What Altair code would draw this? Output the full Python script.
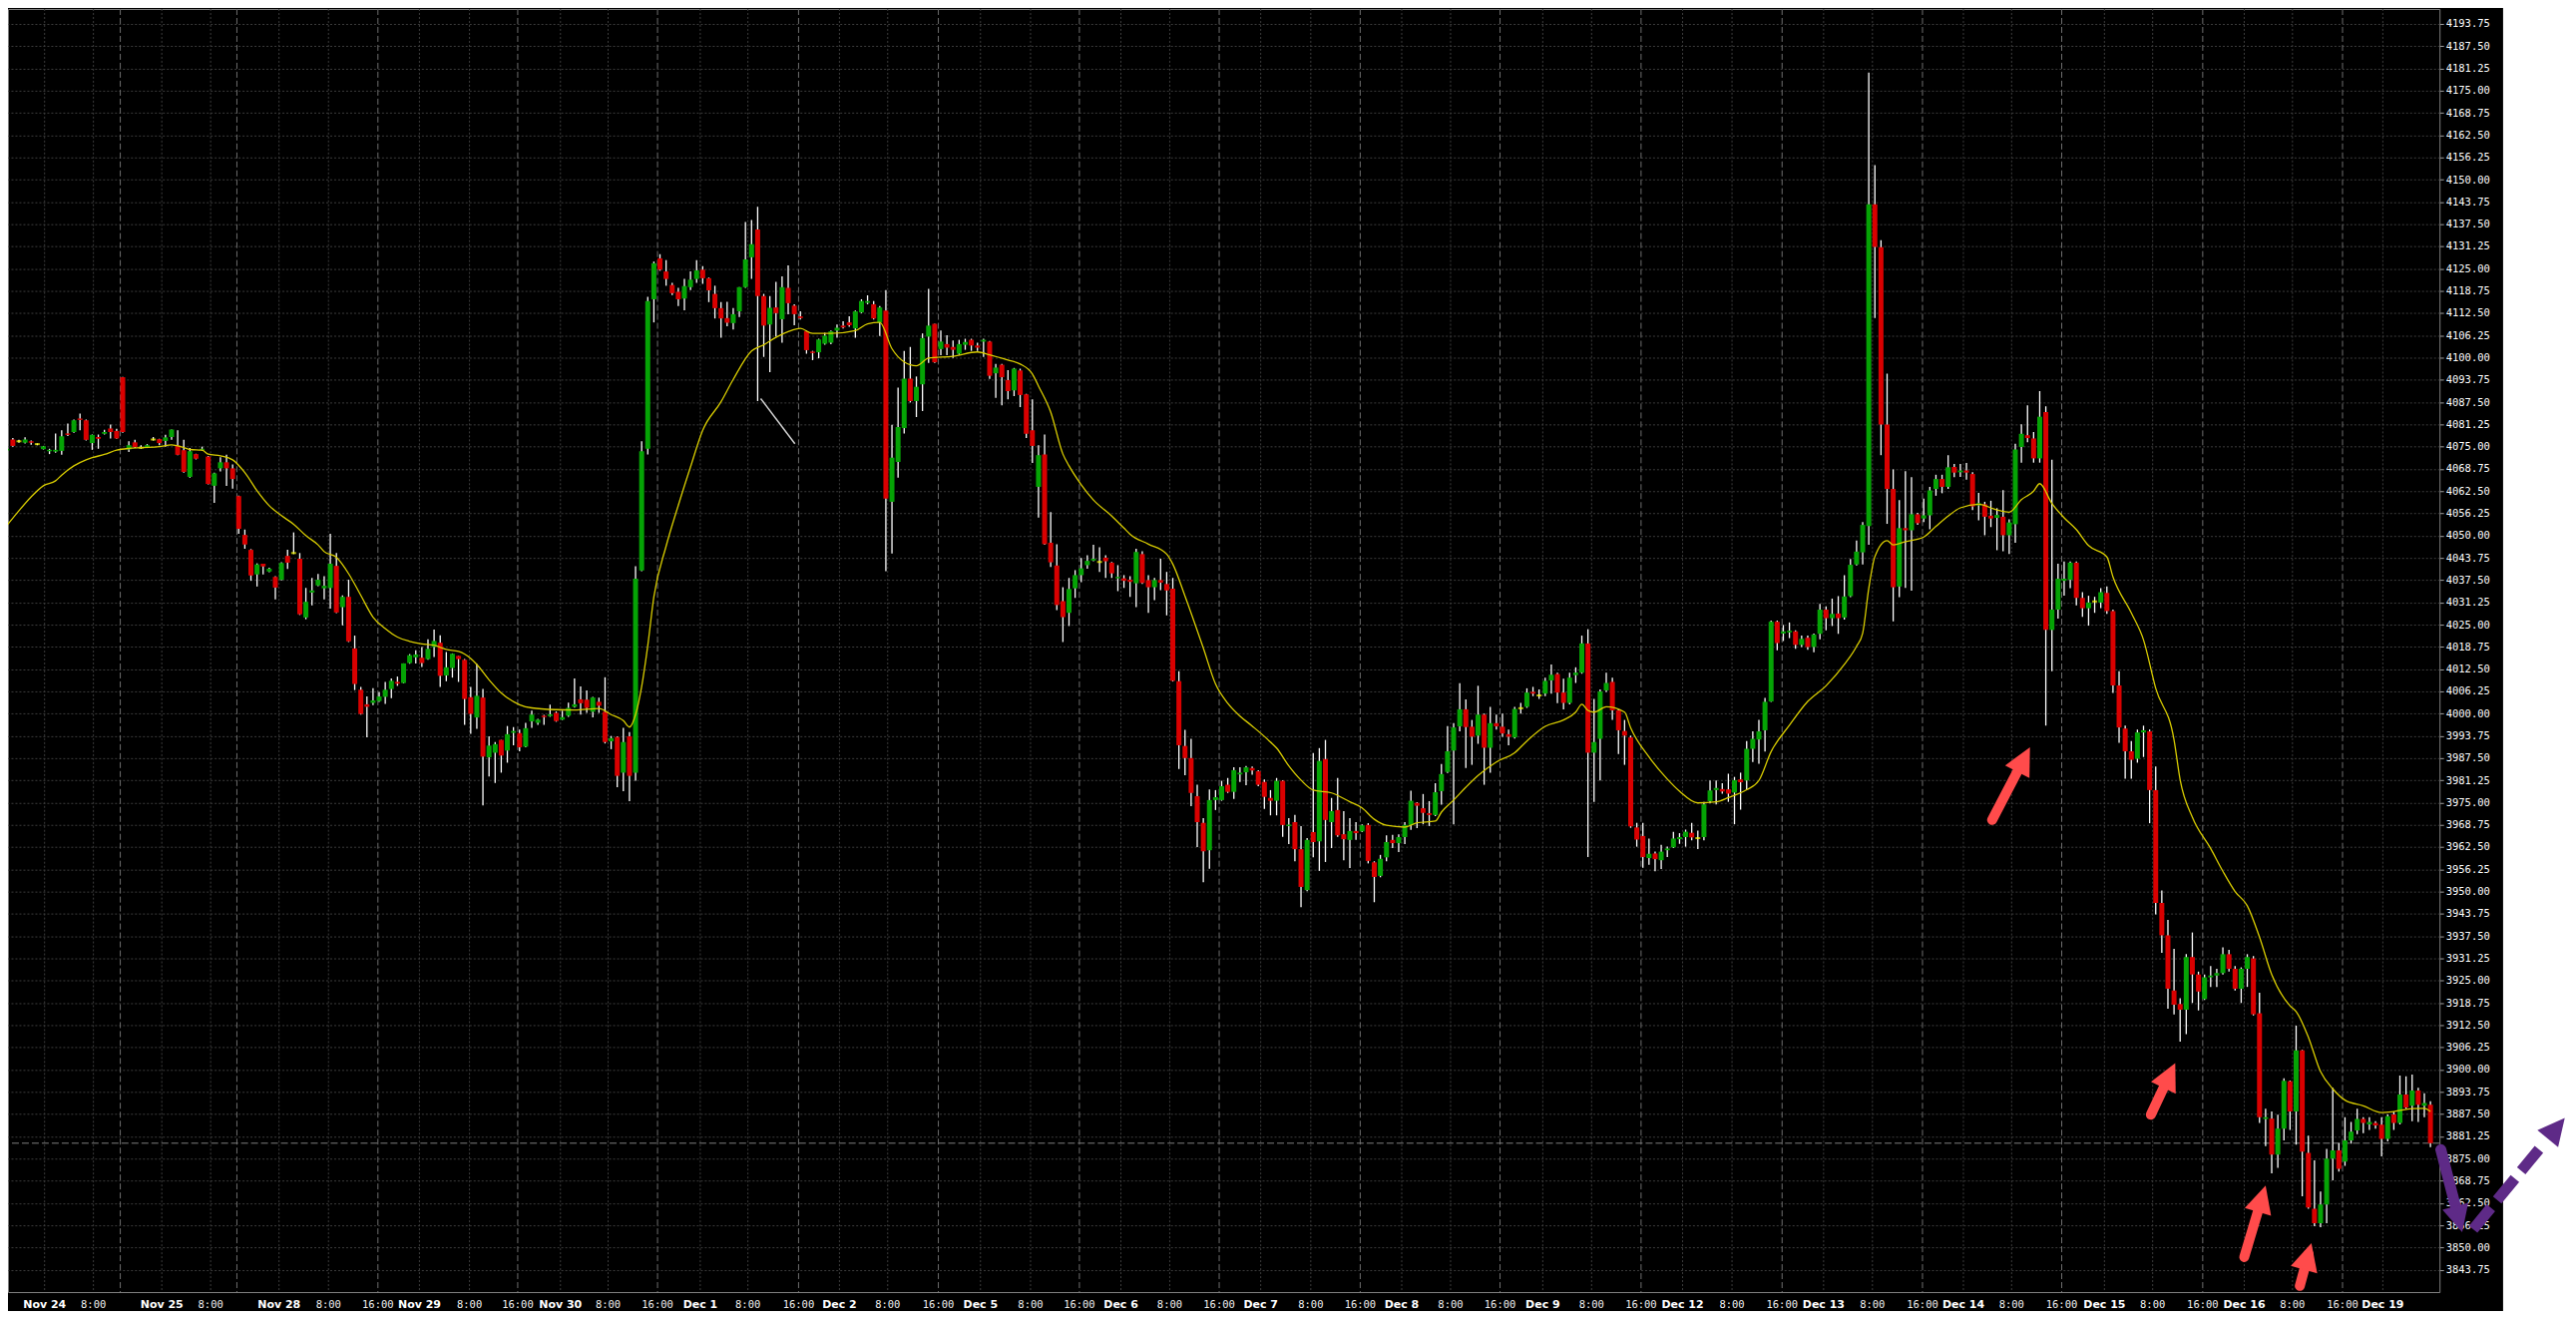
import altair as alt
import pandas as pd

# ---------------- hourly OHLC (bar index 0..397) ----------------
opens = [
 4073.9, 4077.0, 4076.5, 4076.1, 4076.5, 4075.7, 4074.3, 4073.7, 4073.6, 4073.8,
 4078.7, 4079.1, 4082.9, 4082.4, 4076.0, 4077.7, 4078.6, 4080.1, 4079.4, 4094.5,
 4074.2, 4076.2, 4074.7, 4074.7, 4077.0, 4077.1, 4076.6, 4077.7, 4075.3, 4074.0,
 4066.5, 4072.9, 4074.1, 4072.2, 4064.0, 4068.9, 4070.6, 4068.9, 4061.1, 4050.2,
 4046.0, 4039.1, 4042.1, 4039.9, 4038.4, 4037.6, 4044.3, 4045.1, 4043.5, 4027.0,
 4034.0, 4036.0, 4035.2, 4035.3, 4041.5, 4029.9, 4032.8, 4018.3, 4006.7, 4002.6,
 4003.0, 4003.5, 4004.7, 4006.9, 4008.9, 4008.6, 4014.2, 4015.8, 4015.7, 4015.3,
 4018.7, 4019.9, 4010.7, 4012.8, 4016.2, 4015.1, 4004.6, 3998.9, 4004.5, 3987.7,
 3989.0, 3992.6, 3989.6, 3994.6, 3994.5, 3990.7, 3997.8, 3997.4, 3999.4, 3999.3,
 4000.2, 3998.3, 3999.4, 4001.9, 4004.0, 4003.9, 4000.5, 4003.3, 4000.5, 3992.2,
 3993.4, 3983.4, 3993.6, 3983.4, 4040.2, 4074.4, 4116.4, 4127.9, 4124.2, 4120.4,
 4118.5, 4116.6, 4119.8, 4122.1, 4124.7, 4122.3, 4117.9, 4113.9, 4111.1, 4109.7,
 4113.0, 4119.8, 4128.2, 4136.0, 4117.3, 4109.3, 4114.1, 4110.8, 4119.6, 4114.6,
 4111.6, 4107.4, 4101.7, 4101.5, 4103.9, 4104.2, 4107.6, 4109.0, 4109.9, 4108.2,
 4112.7, 4115.4, 4115.0, 4109.9, 4113.2, 4059.5, 4070.7, 4080.2, 4094.1, 4087.8,
 4092.5, 4105.9, 4109.5, 4102.4, 4103.8, 4103.0, 4101.1, 4103.6, 4105.0, 4103.4,
 4104.5, 4104.5, 4095.6, 4098.0, 4093.7, 4090.8, 4096.4, 4089.7, 4079.6, 4063.7,
 4072.8, 4048.0, 4041.6, 4031.6, 4028.3, 4035.2, 4038.9, 4041.7, 4043.0, 4042.6,
 4043.8, 4042.4, 4038.0, 4038.0, 4037.6, 4036.6, 4044.8, 4037.5, 4035.5, 4037.5,
 4036.4, 4035.1, 4009.1, 3990.9, 3987.5, 3976.8, 3969.3, 3961.6, 3975.7, 3975.7,
 3980.0, 3978.0, 3982.9, 3983.5, 3984.7, 3983.8, 3980.8, 3976.3, 3975.5, 3981.1,
 3968.4, 3969.5, 3961.9, 3950.4, 3966.7, 3964.1, 3987.2, 3969.5, 3972.9, 3966.1,
 3964.5, 3967.0, 3966.9, 3968.7, 3958.2, 3954.4, 3959.6, 3964.5, 3963.6, 3965.3,
 3968.7, 3974.9, 3973.4, 3972.0, 3971.5, 3978.2, 3983.6, 3989.6, 3996.4, 4001.2,
 3996.3, 3993.8, 3999.7, 3990.4, 3997.3, 3996.3, 3994.2, 3993.3, 4001.5, 4001.9,
 4006.1, 4005.1, 4005.6, 4009.3, 4011.1, 4005.9, 4003.0, 4010.8, 4011.5, 4019.7,
 3989.0, 3992.9, 4006.5, 4008.9, 4000.9, 3995.1, 3993.3, 3968.0, 3965.6, 3959.4,
 3960.7, 3958.8, 3961.6, 3962.4, 3964.7, 3965.3, 3966.5, 3965.0, 3965.3, 3975.4,
 3978.5, 3978.8, 3978.7, 3977.8, 3981.5, 3981.2, 3990.1, 3992.7, 3995.3, 4003.4,
 4025.8, 4022.5, 4022.8, 4023.1, 4019.3, 4021.3, 4018.7, 4022.4, 4029.2, 4026.8,
 4028.1, 4027.0, 4033.0, 4041.9, 4045.3, 4052.7, 4143.1, 4131.0, 4081.2, 4063.1,
 4035.7, 4052.1, 4051.5, 4056.0, 4054.8, 4055.7, 4063.1, 4065.9, 4063.7, 4069.3,
 4067.8, 4068.3, 4067.3, 4058.5, 4058.8, 4055.6, 4055.0, 4055.3, 4050.1, 4053.2,
 4074.9, 4078.2, 4077.3, 4071.7, 4084.7, 4023.5, 4029.2, 4037.3, 4037.6, 4042.4,
 4032.5, 4029.6, 4031.5, 4031.2, 4033.9, 4028.8, 4007.9, 3995.8, 3989.4, 3987.3,
 3994.7, 3995.0, 3978.5, 3946.8, 3937.7, 3922.2, 3918.4, 3916.8, 3931.6, 3926.7,
 3919.8, 3925.9, 3926.4, 3927.1, 3932.4, 3928.3, 3922.7, 3928.3, 3931.2, 3915.8,
 3886.1, 3886.2, 3876.1, 3883.4, 3896.7, 3888.2, 3905.4, 3876.6, 3860.9, 3856.8,
 3862.1, 3875.0, 3877.3, 3874.1, 3880.1, 3882.9, 3886.1, 3884.6, 3885.0, 3884.5,
 3880.5, 3887.4, 3885.0, 3893.0, 3889.8, 3894.1, 3889.8, 3890.1]

highs = [
 4074.6, 4077.4, 4076.9, 4077.6, 4076.7, 4075.9, 4075.2, 4074.4, 4078.7, 4079.6,
 4081.5, 4082.6, 4084.3, 4082.6, 4078.4, 4078.4, 4079.7, 4081.2, 4080.0, 4094.6,
 4076.5, 4076.9, 4075.4, 4075.7, 4077.7, 4077.2, 4078.3, 4079.8, 4079.6, 4076.9,
 4074.6, 4073.0, 4075.0, 4072.4, 4067.7, 4072.0, 4072.7, 4070.0, 4061.2, 4051.7,
 4046.2, 4042.2, 4042.1, 4041.0, 4038.6, 4042.5, 4046.0, 4050.9, 4045.1, 4035.3,
 4038.1, 4039.2, 4038.6, 4050.5, 4045.1, 4033.2, 4037.6, 4021.9, 4007.5, 4004.8,
 4007.1, 4006.0, 4008.9, 4009.9, 4010.4, 4014.1, 4016.7, 4017.8, 4018.7, 4020.9,
 4023.6, 4022.0, 4017.3, 4016.9, 4016.2, 4015.3, 4007.5, 4013.9, 4006.9, 3993.6,
 3992.0, 3992.6, 3996.5, 3996.2, 3995.5, 3997.4, 4000.8, 3998.5, 3999.6, 4002.5,
 4000.6, 4000.8, 4003.1, 4009.9, 4007.6, 4006.5, 4004.7, 4004.5, 4010.2, 3993.7,
 3993.6, 3996.0, 3994.8, 4041.4, 4076.5, 4117.1, 4127.0, 4129.1, 4127.4, 4121.0,
 4119.6, 4122.1, 4124.2, 4127.4, 4125.7, 4122.5, 4120.2, 4115.6, 4115.7, 4113.9,
 4119.8, 4138.1, 4138.7, 4142.4, 4117.9, 4117.3, 4121.3, 4122.8, 4125.9, 4115.0,
 4113.0, 4107.6, 4101.9, 4105.3, 4107.0, 4107.6, 4109.3, 4110.2, 4111.6, 4113.2,
 4116.4, 4117.5, 4115.9, 4114.5, 4119.0, 4081.1, 4091.6, 4101.9, 4103.0, 4094.7,
 4106.8, 4119.3, 4109.5, 4107.6, 4106.3, 4104.8, 4105.0, 4105.3, 4105.3, 4104.2,
 4105.3, 4104.7, 4098.2, 4098.2, 4096.5, 4097.1, 4096.9, 4089.8, 4088.3, 4075.4,
 4078.4, 4056.6, 4047.6, 4035.5, 4038.1, 4040.3, 4043.7, 4044.5, 4047.4, 4046.7,
 4044.5, 4042.6, 4041.7, 4038.9, 4038.6, 4046.3, 4045.6, 4038.9, 4038.1, 4043.5,
 4039.8, 4038.1, 4011.9, 3995.4, 3992.9, 3980.0, 3970.6, 3978.7, 3978.5, 3981.1,
 3981.9, 3984.9, 3984.9, 3985.3, 3985.1, 3984.1, 3981.5, 3978.5, 3981.9, 3981.3,
 3970.6, 3971.5, 3968.4, 3965.0, 3988.9, 3990.3, 3992.6, 3976.3, 3981.9, 3972.6,
 3970.6, 3969.5, 3968.9, 3969.2, 3958.5, 3960.3, 3965.8, 3965.9, 3966.1, 3969.5,
 3978.3, 3975.1, 3977.4, 3975.4, 3980.4, 3985.8, 3996.5, 3997.3, 4008.5, 4004.0,
 3998.2, 4007.8, 4000.0, 4001.9, 3999.7, 4000.0, 3995.5, 4001.9, 4003.0, 4007.1,
 4007.5, 4006.8, 4010.1, 4013.8, 4011.5, 4009.8, 4011.5, 4013.0, 4021.9, 4023.7,
 4004.1, 4006.8, 4011.5, 4010.1, 4001.2, 3998.2, 3993.8, 3969.3, 3969.3, 3964.9,
 3961.2, 3963.1, 3962.6, 3966.8, 3966.4, 3967.4, 3969.3, 3967.1, 3975.2, 3981.2,
 3981.2, 3980.4, 3983.1, 3982.2, 3983.4, 3992.3, 3995.0, 3998.2, 4004.4, 4026.1,
 4026.1, 4024.9, 4025.6, 4023.4, 4021.9, 4021.9, 4022.5, 4030.8, 4030.1, 4032.3,
 4033.0, 4038.9, 4043.4, 4048.6, 4053.8, 4180.1, 4154.1, 4133.0, 4095.5, 4068.6,
 4060.0, 4068.1, 4066.4, 4056.4, 4060.4, 4063.7, 4067.1, 4067.1, 4072.6, 4070.1,
 4070.1, 4070.4, 4067.8, 4062.0, 4059.5, 4059.8, 4057.7, 4062.8, 4054.6, 4075.8,
 4081.3, 4086.6, 4079.1, 4090.6, 4086.3, 4071.3, 4042.1, 4042.7, 4042.7, 4042.7,
 4034.1, 4033.1, 4032.8, 4035.2, 4035.7, 4029.2, 4011.9, 3996.6, 3992.3, 3995.5,
 3996.6, 3995.5, 3985.1, 3950.3, 3942.0, 3933.9, 3920.0, 3932.4, 3938.5, 3927.5,
 3926.7, 3929.1, 3928.3, 3934.3, 3933.6, 3929.1, 3928.7, 3932.4, 3931.9, 3921.6,
 3889.0, 3888.2, 3887.3, 3897.5, 3896.9, 3912.3, 3905.5, 3881.4, 3874.5, 3865.7,
 3877.7, 3894.9, 3879.3, 3886.6, 3885.3, 3889.0, 3886.6, 3886.6, 3885.5, 3886.6,
 3887.4, 3888.2, 3898.3, 3898.1, 3898.6, 3894.9, 3893.3, 3891.1]

lows = [
 4073.7, 4075.0, 4076.1, 4075.9, 4075.5, 4075.4, 4074.2, 4072.9, 4073.3, 4072.7,
 4078.0, 4078.9, 4079.6, 4076.7, 4074.1, 4074.4, 4078.4, 4077.3, 4077.2, 4078.9,
 4073.5, 4074.6, 4074.4, 4074.6, 4076.7, 4075.4, 4075.0, 4076.9, 4072.6, 4067.7,
 4066.3, 4071.4, 4073.9, 4064.4, 4059.2, 4068.0, 4064.0, 4063.2, 4050.5, 4046.3,
 4037.3, 4035.7, 4039.1, 4039.7, 4032.1, 4037.4, 4040.6, 4044.8, 4027.7, 4026.5,
 4030.4, 4035.8, 4032.1, 4029.5, 4028.2, 4024.8, 4020.1, 4006.6, 3999.7, 3993.3,
 4002.4, 4003.3, 4002.7, 4004.3, 4007.8, 4008.5, 4014.0, 4014.1, 4013.1, 4015.1,
 4015.9, 4007.5, 4009.1, 4010.1, 4008.9, 3996.8, 3994.3, 3995.7, 3974.2, 3982.3,
 3980.5, 3983.4, 3986.2, 3991.1, 3989.4, 3990.5, 3996.0, 3996.8, 3996.8, 3999.1,
 3997.7, 3998.2, 3999.1, 4001.7, 3999.7, 4000.2, 3998.9, 4000.2, 3991.6, 3990.0,
 3979.3, 3978.2, 3975.4, 3981.1, 4040.0, 4072.8, 4109.9, 4124.4, 4120.2, 4117.6,
 4114.5, 4113.3, 4119.0, 4121.0, 4120.7, 4115.6, 4111.0, 4105.6, 4108.8, 4107.9,
 4111.4, 4119.6, 4122.1, 4087.8, 4100.2, 4095.9, 4105.9, 4104.2, 4112.2, 4109.1,
 4110.7, 4101.1, 4099.3, 4099.8, 4103.6, 4103.8, 4105.6, 4108.2, 4108.7, 4105.6,
 4112.5, 4115.0, 4110.7, 4106.1, 4040.0, 4045.0, 4066.3, 4078.7, 4087.4, 4083.3,
 4085.0, 4098.5, 4098.5, 4100.7, 4100.7, 4099.9, 4100.8, 4102.2, 4101.9, 4101.9,
 4100.2, 4094.0, 4088.7, 4086.6, 4088.3, 4089.2, 4086.1, 4077.4, 4070.4, 4055.1,
 4047.4, 4041.2, 4029.1, 4020.1, 4024.6, 4032.5, 4036.9, 4040.7, 4042.8, 4039.8,
 4038.1, 4038.1, 4034.4, 4035.3, 4032.8, 4029.9, 4036.4, 4028.3, 4031.9, 4034.7,
 4027.6, 4009.0, 3984.4, 3982.7, 3974.0, 3962.5, 3952.6, 3956.4, 3972.9, 3975.5,
 3977.7, 3976.0, 3980.8, 3979.9, 3982.8, 3979.6, 3973.2, 3971.4, 3971.4, 3965.4,
 3963.3, 3958.5, 3945.6, 3950.1, 3959.6, 3955.8, 3958.3, 3962.2, 3965.4, 3958.8,
 3956.6, 3964.5, 3966.7, 3957.9, 3947.0, 3954.0, 3958.5, 3962.2, 3961.1, 3963.3,
 3967.3, 3967.8, 3968.9, 3968.4, 3971.2, 3974.4, 3983.3, 3968.9, 3995.0, 3984.7,
 3985.6, 3991.5, 3980.0, 3983.4, 3995.5, 3993.5, 3991.1, 3993.0, 4000.0, 4001.6,
 4004.9, 4004.1, 4004.9, 4005.6, 4002.9, 4001.2, 4002.6, 4008.6, 4011.2, 3959.7,
 3975.2, 3981.2, 4006.1, 3998.2, 3988.6, 3985.6, 3967.9, 3962.6, 3956.7, 3957.5,
 3955.7, 3956.3, 3959.7, 3962.2, 3963.4, 3962.6, 3964.4, 3961.9, 3964.4, 3974.8,
 3974.5, 3977.5, 3975.2, 3968.9, 3973.0, 3978.7, 3986.4, 3985.9, 3989.3, 4003.3,
 4017.8, 4020.4, 4021.2, 4018.2, 4018.7, 4017.9, 4017.2, 4020.9, 4023.4, 4024.6,
 4022.4, 4026.4, 4032.7, 4041.6, 4041.9, 4047.4, 4111.1, 4072.6, 4053.3, 4025.9,
 4032.7, 4035.3, 4034.5, 4053.0, 4053.8, 4051.8, 4061.2, 4061.9, 4063.1, 4066.4,
 4066.5, 4065.7, 4057.2, 4054.3, 4050.1, 4052.4, 4045.9, 4045.6, 4044.8, 4048.0,
 4070.5, 4076.2, 4070.5, 4070.5, 3996.6, 4011.9, 4026.7, 4033.1, 4035.2, 4030.4,
 4027.2, 4024.7, 4028.3, 4029.6, 4028.0, 4005.8, 3991.8, 3981.7, 3981.7, 3986.2,
 3987.8, 3969.2, 3943.6, 3932.8, 3917.1, 3915.5, 3907.8, 3909.9, 3918.7, 3916.6,
 3919.5, 3923.2, 3923.2, 3926.7, 3927.5, 3922.2, 3918.7, 3923.2, 3915.2, 3885.0,
 3878.5, 3870.8, 3872.4, 3880.1, 3883.0, 3878.9, 3864.4, 3860.9, 3856.0, 3855.7,
 3856.8, 3868.9, 3871.3, 3872.9, 3879.2, 3881.8, 3882.1, 3883.0, 3883.4, 3875.6,
 3879.8, 3883.0, 3884.6, 3889.0, 3885.5, 3885.3, 3886.6, 3878.2]

closes = [
 4074.4, 4075.2, 4076.5, 4077.0, 4076.1, 4075.7, 4075.1, 4074.1, 4074.1, 4077.9,
 4078.3, 4082.4, 4082.5, 4076.9, 4078.3, 4077.2, 4079.1, 4079.1, 4077.3, 4079.1,
 4075.4, 4074.9, 4074.7, 4075.4, 4077.0, 4076.0, 4077.6, 4079.8, 4072.7, 4067.9,
 4073.7, 4071.6, 4074.4, 4064.5, 4067.5, 4070.6, 4068.9, 4065.9, 4051.9, 4047.5,
 4038.8, 4041.9, 4041.3, 4040.7, 4035.4, 4042.3, 4042.4, 4045.1, 4027.9, 4031.4,
 4034.6, 4037.6, 4035.9, 4042.1, 4028.4, 4032.8, 4020.3, 4008.3, 3999.9, 4001.9,
 4003.7, 4004.8, 4006.7, 4009.2, 4008.4, 4014.1, 4016.4, 4016.6, 4014.2, 4018.2,
 4020.4, 4010.6, 4013.0, 4016.8, 4015.3, 4004.1, 3999.9, 4005.0, 3987.9, 3991.0,
 3991.4, 3988.2, 3994.2, 3995.1, 3990.5, 3995.9, 3999.7, 3998.3, 3999.0, 3999.8,
 3997.9, 3999.0, 4001.6, 4002.6, 4002.9, 4001.6, 4004.5, 4002.2, 3992.0, 3993.1,
 3982.5, 3992.0, 3982.5, 4037.9, 4073.7, 4115.9, 4126.5, 4124.7, 4122.1, 4118.1,
 4116.4, 4120.1, 4121.9, 4124.5, 4122.3, 4118.9, 4113.9, 4111.0, 4109.8, 4112.2,
 4119.8, 4127.6, 4131.9, 4117.3, 4109.0, 4114.0, 4112.5, 4119.8, 4115.3, 4112.2,
 4111.1, 4102.1, 4101.3, 4105.1, 4106.2, 4107.4, 4108.4, 4108.5, 4109.1, 4113.0,
 4115.9, 4115.9, 4111.0, 4114.1, 4060.4, 4071.9, 4080.5, 4094.1, 4087.8, 4091.8,
 4105.5, 4109.0, 4098.7, 4104.5, 4102.8, 4102.2, 4103.8, 4104.4, 4103.4, 4102.8,
 4105.0, 4094.9, 4097.2, 4094.5, 4090.6, 4096.9, 4089.5, 4078.6, 4075.2, 4072.6,
 4047.6, 4042.5, 4030.5, 4027.1, 4035.0, 4038.9, 4040.8, 4042.9, 4043.5, 4042.6,
 4042.8, 4039.4, 4038.4, 4037.3, 4037.0, 4045.4, 4036.7, 4035.5, 4037.5, 4036.8,
 4034.6, 4009.2, 3991.1, 3987.5, 3977.7, 3969.5, 3961.3, 3975.7, 3976.5, 3979.6,
 3978.0, 3984.1, 3983.4, 3984.9, 3984.0, 3980.0, 3976.6, 3975.5, 3981.1, 3968.7,
 3968.8, 3961.9, 3951.3, 3964.5, 3963.9, 3986.7, 3970.1, 3972.6, 3965.8, 3964.7,
 3967.0, 3966.4, 3968.6, 3958.6, 3954.1, 3959.2, 3963.9, 3963.6, 3965.3, 3968.7,
 3975.5, 3974.1, 3972.1, 3971.5, 3977.9, 3983.0, 3989.4, 3996.1, 4001.2, 3996.2,
 3993.5, 3999.7, 3990.4, 3997.3, 3996.4, 3994.4, 3993.5, 4001.3, 4001.5, 4005.9,
 4005.6, 4005.1, 4009.2, 4010.9, 4005.9, 4003.0, 4010.1, 4011.5, 4019.7, 3989.0,
 3992.0, 4006.2, 4008.6, 4000.9, 3995.3, 3993.8, 3968.3, 3964.6, 3959.7, 3960.6,
 3959.1, 3961.2, 3962.1, 3964.9, 3965.3, 3966.8, 3965.2, 3965.0, 3974.5, 3978.4,
 3979.1, 3978.1, 3977.5, 3981.3, 3980.7, 3990.1, 3992.9, 3995.0, 4003.3, 4025.8,
 4019.8, 4023.1, 4023.3, 4019.3, 4021.0, 4018.7, 4022.2, 4029.2, 4026.8, 4028.0,
 4026.8, 4032.9, 4041.8, 4045.5, 4053.0, 4143.1, 4131.1, 4081.2, 4063.1, 4035.5,
 4052.1, 4051.5, 4056.0, 4053.5, 4055.7, 4062.7, 4065.9, 4063.7, 4069.2, 4067.7,
 4068.3, 4067.7, 4058.2, 4059.1, 4055.3, 4054.8, 4055.8, 4050.1, 4053.7, 4074.2,
 4078.6, 4077.4, 4071.7, 4083.4, 4023.5, 4029.2, 4037.9, 4037.9, 4042.4, 4032.5,
 4029.6, 4031.2, 4031.5, 4034.1, 4028.8, 4007.9, 3996.1, 3989.4, 3987.0, 3994.7,
 3995.3, 3978.5, 3946.8, 3937.7, 3922.7, 3918.2, 3916.8, 3931.6, 3926.7, 3921.9,
 3925.9, 3926.4, 3927.1, 3932.4, 3928.3, 3922.7, 3928.3, 3931.6, 3915.5, 3886.6,
 3886.6, 3876.1, 3883.4, 3896.8, 3888.2, 3905.4, 3876.9, 3861.2, 3856.8, 3862.1,
 3875.0, 3877.3, 3872.1, 3880.1, 3882.5, 3886.1, 3885.0, 3885.3, 3884.3, 3880.5,
 3886.9, 3885.0, 3893.0, 3889.3, 3894.1, 3890.1, 3890.6, 3879.3]

# ---------------- moving average (yellow), read at sampled bars ----------------
ma_bar = [0, 2, 4, 6, 8, 9, 11, 13, 14, 16, 18, 20, 22, 25, 27, 29, 30, 32, 33, 35,
          37, 39, 41, 43, 45, 47, 49, 51, 52, 54, 56, 58, 60, 62, 64, 66, 68, 70, 72, 74,
          76, 77, 79, 81, 84, 86, 90, 93, 97, 99, 101, 102, 103, 104, 105, 106, 108, 110, 112, 114,
          117, 119, 122, 124, 126, 128, 130, 132, 135, 139, 141, 143, 145, 147, 149, 151, 155, 159, 161, 164,
          166, 168, 169, 171, 173, 174, 176, 178, 181, 183, 184, 187, 190, 191, 193, 196, 198, 200, 202, 204,
          207, 208, 210, 212, 214, 217, 220, 222, 224, 226, 229, 231, 234, 235, 237, 239, 241, 244, 247, 249,
          252, 255, 257, 258, 259, 260, 262, 265, 266, 269, 272, 274, 277, 280, 282, 285, 287, 289, 292, 295,
          298, 301, 303, 304, 305, 306, 308, 309, 311, 314, 316, 318, 320, 323, 326, 328, 330, 332, 333, 335,
          337, 339, 341, 344, 345, 348, 350, 352, 355, 356, 358, 361, 363, 365, 367, 369, 371, 374, 375, 377,
          379, 381, 383, 386, 389, 391, 394, 396, 397]
ma_value = [4052.8, 4057.0, 4060.9, 4064.0, 4065.4, 4067.0, 4069.6, 4071.3, 4071.9, 4072.8,
            4074.0, 4074.5, 4074.7, 4075.0, 4075.5, 4074.7, 4074.2, 4074.0, 4072.9, 4072.4,
            4071.3, 4067.7, 4062.6, 4058.4, 4055.6, 4053.2, 4050.0, 4047.4, 4045.5, 4043.9,
            4039.3, 4033.2, 4027.1, 4023.9, 4021.5, 4020.3, 4019.6, 4019.2, 4018.0, 4017.5,
            4015.5, 4013.8, 4009.5, 4005.8, 4002.5, 4001.6, 4001.1, 4001.0, 4001.4, 3999.7,
            3998.0, 3996.2, 3999.7, 4007.6, 4019.1, 4032.8, 4047.0, 4058.5, 4069.3, 4079.6,
            4087.6, 4093.9, 4101.9, 4103.6, 4105.7, 4107.3, 4108.2, 4106.8, 4106.8, 4107.6,
            4109.5, 4109.9, 4102.5, 4098.8, 4097.7, 4099.9, 4100.4, 4101.6, 4100.8, 4099.3,
            4098.2, 4095.4, 4092.0, 4084.7, 4072.9, 4069.6, 4064.3, 4060.0, 4055.5, 4052.1,
            4050.4, 4047.6, 4044.8, 4042.0, 4033.0, 4018.4, 4008.3, 4002.9, 3999.3, 3996.5,
            3992.0, 3990.3, 3985.3, 3981.3, 3978.5, 3977.7, 3975.2, 3973.5, 3970.3, 3968.6,
            3968.1, 3969.3, 3969.8, 3972.3, 3975.7, 3979.3, 3982.6, 3986.4, 3989.0, 3992.3,
            3996.4, 3998.2, 4000.4, 4002.6, 4000.9, 4000.4, 4001.9, 4000.4, 3996.0, 3987.8,
            3981.6, 3978.2, 3974.9, 3975.2, 3976.4, 3978.6, 3981.2, 3989.3, 3996.7, 4003.4,
            4007.8, 4013.8, 4018.9, 4022.6, 4035.2, 4044.1, 4048.6, 4047.4, 4048.3, 4049.6,
            4052.6, 4055.5, 4057.8, 4058.8, 4057.2, 4056.6, 4060.1, 4062.5, 4064.6, 4059.0,
            4055.0, 4051.7, 4047.2, 4044.0, 4038.4, 4028.3, 4020.7, 4007.1, 3992.6, 3981.4,
            3970.9, 3962.1, 3955.7, 3950.0, 3946.0, 3937.2, 3926.7, 3917.9, 3916.3, 3909.1,
            3899.4, 3894.6, 3891.4, 3889.8, 3887.9, 3888.2, 3889.0, 3889.1, 3888.2]

# ---------------- time axis labels (position in bar units) ----------------
tick_text = ["Nov 24", "8:00", "Nov 25", "8:00",
             "Nov 28", "8:00", "16:00", "Nov 29", "8:00", "16:00", "Nov 30", "8:00", "16:00",
             "Dec 1", "8:00", "16:00", "Dec 2", "8:00", "16:00", "Dec 5", "8:00", "16:00",
             "Dec 6", "8:00", "16:00", "Dec 7", "8:00", "16:00", "Dec 8", "8:00", "16:00",
             "Dec 9", "8:00", "16:00", "Dec 12", "8:00", "16:00", "Dec 13", "8:00", "16:00",
             "Dec 14", "8:00", "16:00", "Dec 15", "8:00", "16:00", "Dec 16", "8:00", "16:00",
             "Dec 19"]
tick_pos = [6.2, 14.2, 25.4, 33.4,
            44.6, 52.7, 60.8, 67.6, 75.8, 83.7, 90.7, 98.5, 106.6,
            113.6, 121.4, 129.7, 136.4, 144.3, 152.6, 159.5, 167.7, 175.7,
            182.5, 190.5, 198.6, 205.4, 213.6, 221.7, 228.5, 236.5, 244.6,
            251.6, 259.6, 267.7, 274.5, 282.6, 290.8, 297.6, 305.6, 313.8,
            320.5, 328.4, 336.6, 343.6, 351.5, 359.7, 366.5, 374.4, 382.6,
            389.2]
early_close_breaks = [18.6, 37.7]   # Thanksgiving sessions

price_ticks = [3843.75 + 6.25 * k for k in range(57)]

# ---------------- annotations (bar units / price) ----------------
red_tail_x = [325.2, 351.2, 366.5, 375.6]
red_tail_y = [3970.1, 3887.3, 3847.3, 3839.2]
red_tip_x = [331.4, 355.2, 370.0, 377.5]
red_tip_y = [3990.5, 3901.8, 3867.4, 3851.2]
red_angle = [27.5, 25.7, 16.3, 15.6]

purple_tail_x = [398.7, 404.0]
purple_tail_y = [3877.5, 3855.1]
purple_tip_x = [402.2, 419.0]
purple_tip_y = [3854.3, 3886.4]
purple_angle = [165.2, 39.4]
purple_style = ["solid", "dashed"]

trend_x = [123.5, 129.1]
trend_y = [4088.5, 4075.8]

canvas_edge = [408.9, 430.0]   # white area right of the terminal window

# ---------------- build ----------------
W, H = 2441, 1288
xs = alt.Scale(domain=[1.02, 397.67], nice=False, zero=False)
ys = alt.Scale(domain=[3837.47, 4197.95], nice=False, zero=False)

GREEN, RED, DOJI = "#05a305", "#d90000", "#ffff00"
ARROW_RED, ARROW_PURPLE = "#ff4b4b", "#5e2a87"
HEAD = "M0,0L0.85,1.7L-0.85,1.7Z"

yaxis = alt.Axis(orient="right", values=price_ticks, format=".2f", title=None,
                 grid=True, gridColor="#3c3c3c", gridDash=[2, 2], gridWidth=1,
                 domain=False, ticks=True, tickColor="#a0a0a0", tickSize=4, tickWidth=1,
                 labelColor="#ffffff", labelFont="DejaVu Sans Mono", labelFontSize=10.5,
                 labelPadding=2, labelOverlap=False, labelFlush=False)


def X(f):
    return alt.X(f, type="quantitative", scale=xs, axis=None)


def Y(f):
    # every layer carries the same axis definition so the shared axis merges cleanly
    return alt.Y(f, type="quantitative", scale=ys, axis=yaxis)


n = len(closes)
candles = pd.DataFrame({"bar": list(range(n)), "open": opens, "high": highs,
                        "low": lows, "close": closes})
candles["body_top"] = candles[["open", "close"]].max(axis=1)
candles["body_bot"] = candles[["open", "close"]].min(axis=1)
candles["dir"] = ["up" if c > o else ("down" if c < o else "flat")
                  for o, c in zip(opens, closes)]

ma_df = pd.DataFrame({"bar": ma_bar, "ma": ma_value})
ticks_df = pd.DataFrame({"pos": tick_pos, "label": tick_text})
ticks_df["kind"] = ["date" if ":" not in t else ("break" if t == "16:00" else "time")
                    for t in tick_text]
dotted_df = ticks_df[ticks_df["kind"] != "break"][["pos"]]
dashed_df = pd.concat([ticks_df[ticks_df["kind"] == "break"][["pos"]],
                       pd.DataFrame({"pos": early_close_breaks})])
date_df = ticks_df[ticks_df["kind"] == "date"]
time_df = ticks_df[ticks_df["kind"] != "date"]

red_df = pd.DataFrame({"x0": red_tail_x, "y0": red_tail_y, "x1": red_tip_x,
                       "y1": red_tip_y, "angle": red_angle})
pur_df = pd.DataFrame({"x0": purple_tail_x, "y0": purple_tail_y, "x1": purple_tip_x,
                       "y1": purple_tip_y, "angle": purple_angle, "style": purple_style})
trend_df = pd.DataFrame({"x0": [trend_x[0]], "y0": [trend_y[0]],
                         "x1": [trend_x[1]], "y1": [trend_y[1]]})
strip_df = pd.DataFrame({"x0": [canvas_edge[0]], "x1": [canvas_edge[1]],
                         "y0": [3700.0], "y1": [4300.0]})
bid_df = pd.DataFrame({"p": [closes[-1]]})

strip = alt.Chart(strip_df).mark_rect(color="#ffffff", clip=False).encode(
    x=X("x0"), x2="x1:Q", y=Y("y0"), y2="y1:Q")

grid_dot = alt.Chart(dotted_df).mark_rule(color="#3c3c3c", strokeDash=[2, 2], strokeWidth=1).encode(
    x=X("pos"))
grid_dash = alt.Chart(dashed_df).mark_rule(color="#6e6e6e", strokeDash=[6, 3], strokeWidth=1).encode(
    x=X("pos"))
bid = alt.Chart(bid_df).mark_rule(color="#7c7c7c", strokeDash=[7, 3], strokeWidth=1).encode(
    y=Y("p"))

wicks = alt.Chart(candles).mark_rule(color="#ffffff", strokeWidth=1.3, clip=True).encode(
    x=X("bar"), y=Y("low"), y2="high:Q")
bodies = alt.Chart(candles).transform_filter("datum.dir != 'flat'").mark_bar(
    size=5, clip=True).encode(
    x=X("bar"), y=Y("body_top"), y2="body_bot:Q",
    color=alt.Color("dir:N", scale=alt.Scale(domain=["up", "down"], range=[GREEN, RED]), legend=None))
doji = alt.Chart(candles).transform_filter("datum.dir == 'flat'").mark_tick(
    orient="horizontal", size=5, thickness=2, color=DOJI, clip=True).encode(
    x=X("bar"), y=Y("close"))

ma = alt.Chart(ma_df).mark_line(color="#d8cc00", strokeWidth=1.3, clip=True,
                                interpolate="monotone").encode(x=X("bar"), y=Y("ma"))

trend = alt.Chart(trend_df).mark_rule(color="#d0d0d0", strokeWidth=1.5).encode(
    x=X("x0"), y=Y("y0"), x2="x1:Q", y2="y1:Q")

shaft_calc = dict(xe="datum.x0 + 0.75 * (datum.x1 - datum.x0)",
                  ye="datum.y0 + 0.75 * (datum.y1 - datum.y0)")

red_shafts = alt.Chart(red_df).transform_calculate(**shaft_calc).mark_rule(
    color=ARROW_RED, strokeWidth=10, strokeCap="round", clip=False).encode(
    x=X("x0"), y=Y("y0"), x2="xe:Q", y2="ye:Q")
red_heads = alt.Chart(red_df).mark_point(
    shape=HEAD, filled=True, size=1050, color=ARROW_RED, opacity=1, strokeWidth=0, clip=False).encode(
    x=X("x1"), y=Y("y1"), angle=alt.Angle("angle:Q", scale=None))

pur_solid = alt.Chart(pur_df).transform_filter("datum.style == 'solid'").transform_calculate(
    **shaft_calc).mark_rule(color=ARROW_PURPLE, strokeWidth=11, strokeCap="round", clip=False).encode(
    x=X("x0"), y=Y("y0"), x2="xe:Q", y2="ye:Q")
pur_dashed = alt.Chart(pur_df).transform_filter("datum.style == 'dashed'").transform_calculate(
    **shaft_calc).mark_rule(color=ARROW_PURPLE, strokeWidth=11, strokeCap="butt",
                            strokeDash=[28, 10], clip=False).encode(
    x=X("x0"), y=Y("y0"), x2="xe:Q", y2="ye:Q")
pur_heads = alt.Chart(pur_df).mark_point(
    shape=HEAD, filled=True, size=1000, color=ARROW_PURPLE, opacity=1, strokeWidth=0, clip=False).encode(
    x=X("x1"), y=Y("y1"), angle=alt.Angle("angle:Q", scale=None))

date_labels = alt.Chart(date_df).mark_text(
    font="DejaVu Sans", fontSize=11, fontWeight="bold", color="#ffffff",
    align="center", baseline="middle").encode(x=X("pos"), y=alt.value(H + 13), text="label:N")
time_labels = alt.Chart(time_df).mark_text(
    font="DejaVu Sans Mono", fontSize=10.5, color="#f0f0f0",
    align="center", baseline="middle").encode(x=X("pos"), y=alt.value(H + 13), text="label:N")

chart = alt.layer(
    strip, grid_dot, grid_dash, bid, wicks, bodies, doji, ma, trend,
    red_shafts, red_heads, pur_solid, pur_dashed, pur_heads, date_labels, time_labels
).properties(
    width=W, height=H, background="#000000",
    padding={"left": 0, "top": 0, "right": 129, "bottom": 18},
    autosize=alt.AutoSizeParams(type="none"),
).configure_view(stroke="#808080", strokeWidth=1)

chart.save("out.html", embed_options={"renderer": "svg", "actions": False})
